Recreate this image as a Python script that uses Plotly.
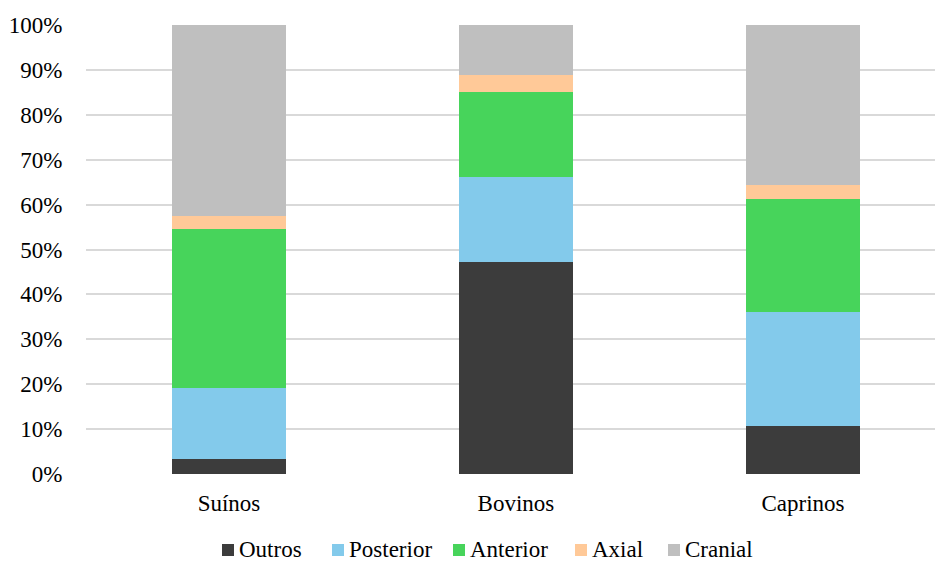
import plotly.graph_objects as go

# Distribuição anatómica dos restos por espécie (percentagem de cada grupo)
categorias = ["Suínos", "Bovinos", "Caprinos"]

outros = [3.4, 47.2, 10.8]
posterior = [15.7, 18.9, 25.3]
anterior = [35.5, 19.0, 25.1]
axial = [2.8, 3.8, 3.2]
cranial = [42.6, 11.1, 35.6]

series = [
    ("Outros", outros, "#3c3c3c"),
    ("Posterior", posterior, "#83caeb"),
    ("Anterior", anterior, "#47d45b"),
    ("Axial", axial, "#ffc998"),
    ("Cranial", cranial, "#bfbfbf"),
]

y_ticks = list(range(0, 101, 10))
y_tick_labels = [f"{v}%" for v in y_ticks]

# Geometria da figura (pixéis)
W, H = 935, 563
M_L, M_R, M_T, M_B = 86, 0, 25, 89
plot_w = W - M_L - M_R
plot_h = H - M_T - M_B


def px_x(px):
    return (px - M_L) / plot_w


def px_y(py):
    return (H - M_B - py) / plot_h


fonte = dict(family="Liberation Serif", size=23, color="#000000")

fig = go.Figure()
for nome, valores, cor in series:
    fig.add_trace(
        go.Bar(
            name=nome,
            x=categorias,
            y=valores,
            marker=dict(color=cor, line=dict(width=0)),
            showlegend=False,
        )
    )

# Legenda horizontal por baixo do gráfico: quadrado de cor + nome da série
legenda_x = [222, 332, 453, 575, 668]
quadrado = 12
legenda_y = 549
for (nome, _, cor), x0 in zip(series, legenda_x):
    fig.add_shape(
        type="rect",
        xref="paper", yref="paper",
        x0=px_x(x0), x1=px_x(x0 + quadrado),
        y0=px_y(legenda_y + 1 - quadrado / 2), y1=px_y(legenda_y + 1 + quadrado / 2),
        fillcolor=cor, line=dict(width=0),
    )
    fig.add_annotation(
        xref="paper", yref="paper",
        x=px_x(x0 + quadrado + 4), y=px_y(legenda_y),
        xanchor="left", yanchor="middle",
        text=nome, showarrow=False, font=fonte, borderpad=0,
    )

fig.update_layout(
    barmode="stack",
    bargap=0.603,
    width=W,
    height=H,
    margin=dict(l=M_L, r=M_R, t=M_T, b=M_B),
    paper_bgcolor="white",
    plot_bgcolor="white",
    font=fonte,
    showlegend=False,
    xaxis=dict(
        range=[-0.498, 2.46],
        showgrid=False,
        showline=False,
        ticks="outside",
        ticklen=8,
        tickcolor="rgba(0,0,0,0)",
        tickfont=fonte,
    ),
    yaxis=dict(
        range=[0, 100],
        tickvals=y_ticks,
        ticktext=y_tick_labels,
        showgrid=True,
        gridcolor="#d9d9d9",
        gridwidth=1.5,
        zeroline=False,
        showline=False,
        ticks="outside",
        ticklen=18,
        tickcolor="rgba(0,0,0,0)",
        tickfont=fonte,
    ),
)

fig.write_html("out.html")
